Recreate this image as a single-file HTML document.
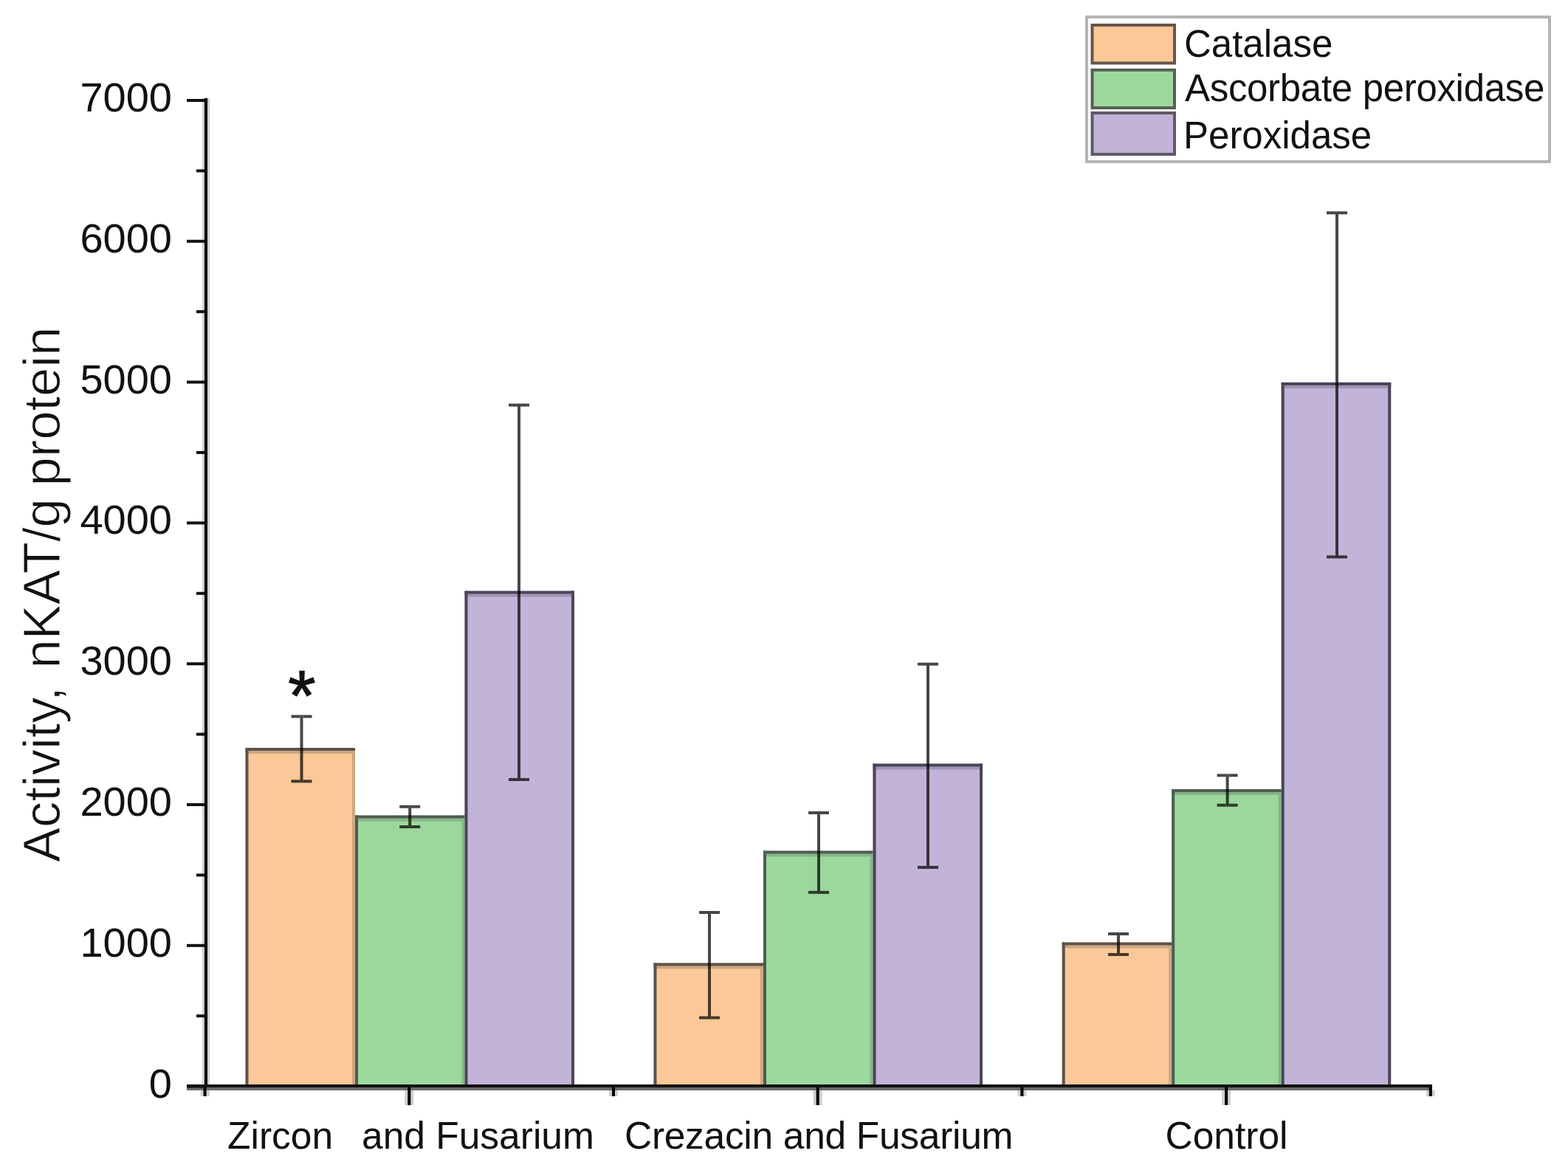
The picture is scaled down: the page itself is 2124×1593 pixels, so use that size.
<!DOCTYPE html>
<html><head><meta charset="utf-8"><title>Enzyme activity</title>
<style>
html,body{margin:0;padding:0;background:#fff;}
body{width:2124px;height:1593px;overflow:hidden;}
svg{display:block;filter:blur(0.5px);}
text{font-family:"Liberation Sans",Arial,sans-serif;fill:#111;}
</style></head>
<body>
<svg width="2124" height="1593" viewBox="0 0 2124 1593">
<rect width="2124" height="1593" fill="#fff"/>
<rect x="332.5" y="1013.0" width="148.5" height="460.5" fill="#FBC897"/>
<rect x="332.5" y="1017.0" width="148.5" height="4.0" fill="#cea782"/>
<rect x="477.0" y="1013.0" width="4.0" height="460.5" fill="#cea782"/>
<rect x="332.5" y="1013.0" width="148.5" height="4.0" fill="#5c534c"/>
<rect x="332.5" y="1013.0" width="4.0" height="460.5" fill="#5c534c"/>
<rect x="481.0" y="1104.5" width="148.5" height="369.0" fill="#9CD89C"/>
<rect x="481.0" y="1108.5" width="148.5" height="4.0" fill="#86b587"/>
<rect x="625.5" y="1104.5" width="4.0" height="369.0" fill="#86b587"/>
<rect x="481.0" y="1104.5" width="148.5" height="4.0" fill="#4f5c51"/>
<rect x="481.0" y="1104.5" width="4.0" height="369.0" fill="#4f5c51"/>
<rect x="629.5" y="800.5" width="148.5" height="673.0" fill="#C2B3D8"/>
<rect x="629.5" y="804.5" width="148.5" height="4.0" fill="#a094b4"/>
<rect x="774.0" y="800.5" width="4.0" height="673.0" fill="#4a4557"/>
<rect x="629.5" y="800.5" width="148.5" height="4.0" fill="#4a4557"/>
<rect x="629.5" y="800.5" width="4.0" height="673.0" fill="#4a4557"/>
<rect x="885.5" y="1304.5" width="148.5" height="169.0" fill="#FBC897"/>
<rect x="885.5" y="1308.5" width="148.5" height="4.0" fill="#cea782"/>
<rect x="1030.0" y="1304.5" width="4.0" height="169.0" fill="#cea782"/>
<rect x="885.5" y="1304.5" width="148.5" height="4.0" fill="#5c534c"/>
<rect x="885.5" y="1304.5" width="4.0" height="169.0" fill="#5c534c"/>
<rect x="1034.0" y="1152.5" width="148.5" height="321.0" fill="#9CD89C"/>
<rect x="1034.0" y="1156.5" width="148.5" height="4.0" fill="#86b587"/>
<rect x="1178.5" y="1152.5" width="4.0" height="321.0" fill="#86b587"/>
<rect x="1034.0" y="1152.5" width="148.5" height="4.0" fill="#4f5c51"/>
<rect x="1034.0" y="1152.5" width="4.0" height="321.0" fill="#4f5c51"/>
<rect x="1182.5" y="1034.5" width="148.5" height="439.0" fill="#C2B3D8"/>
<rect x="1182.5" y="1038.5" width="148.5" height="4.0" fill="#a094b4"/>
<rect x="1327.0" y="1034.5" width="4.0" height="439.0" fill="#4a4557"/>
<rect x="1182.5" y="1034.5" width="148.5" height="4.0" fill="#4a4557"/>
<rect x="1182.5" y="1034.5" width="4.0" height="439.0" fill="#4a4557"/>
<rect x="1438.7" y="1276.5" width="148.5" height="197.0" fill="#FBC897"/>
<rect x="1438.7" y="1280.5" width="148.5" height="4.0" fill="#cea782"/>
<rect x="1583.2" y="1276.5" width="4.0" height="197.0" fill="#cea782"/>
<rect x="1438.7" y="1276.5" width="148.5" height="4.0" fill="#5c534c"/>
<rect x="1438.7" y="1276.5" width="4.0" height="197.0" fill="#5c534c"/>
<rect x="1587.2" y="1069.0" width="148.5" height="404.5" fill="#9CD89C"/>
<rect x="1587.2" y="1073.0" width="148.5" height="4.0" fill="#86b587"/>
<rect x="1731.7" y="1069.0" width="4.0" height="404.5" fill="#86b587"/>
<rect x="1587.2" y="1069.0" width="148.5" height="4.0" fill="#4f5c51"/>
<rect x="1587.2" y="1069.0" width="4.0" height="404.5" fill="#4f5c51"/>
<rect x="1735.7" y="518.0" width="148.5" height="955.5" fill="#C2B3D8"/>
<rect x="1735.7" y="522.0" width="148.5" height="4.0" fill="#a094b4"/>
<rect x="1880.2" y="518.0" width="4.0" height="955.5" fill="#4a4557"/>
<rect x="1735.7" y="518.0" width="148.5" height="4.0" fill="#4a4557"/>
<rect x="1735.7" y="518.0" width="4.0" height="955.5" fill="#4a4557"/>
<g fill="#000" fill-opacity="0.72"><rect x="406.5" y="968.5" width="4" height="91.8"/><rect x="394.5" y="968.5" width="12" height="4"/><rect x="410.5" y="968.5" width="12" height="4"/><rect x="394.5" y="1056.3" width="12" height="4"/><rect x="410.5" y="1056.3" width="12" height="4"/></g>
<g fill="#000" fill-opacity="0.72"><rect x="553.2" y="1090.7" width="4" height="31.3"/><rect x="541.2" y="1090.7" width="12" height="4"/><rect x="557.2" y="1090.7" width="12" height="4"/><rect x="541.2" y="1118.0" width="12" height="4"/><rect x="557.2" y="1118.0" width="12" height="4"/></g>
<g fill="#000" fill-opacity="0.72"><rect x="701.0" y="546.7" width="4" height="511.3"/><rect x="689.0" y="546.7" width="12" height="4"/><rect x="705.0" y="546.7" width="12" height="4"/><rect x="689.0" y="1054.0" width="12" height="4"/><rect x="705.0" y="1054.0" width="12" height="4"/></g>
<g fill="#000" fill-opacity="0.72"><rect x="959.0" y="1234.0" width="4" height="146.6"/><rect x="947.0" y="1234.0" width="12" height="4"/><rect x="963.0" y="1234.0" width="12" height="4"/><rect x="947.0" y="1376.6" width="12" height="4"/><rect x="963.0" y="1376.6" width="12" height="4"/></g>
<g fill="#000" fill-opacity="0.72"><rect x="1107.0" y="1099.0" width="4" height="111.8"/><rect x="1095.0" y="1099.0" width="12" height="4"/><rect x="1111.0" y="1099.0" width="12" height="4"/><rect x="1095.0" y="1206.8" width="12" height="4"/><rect x="1111.0" y="1206.8" width="12" height="4"/></g>
<g fill="#000" fill-opacity="0.72"><rect x="1255.0" y="897.6" width="4" height="279.3"/><rect x="1243.0" y="897.6" width="12" height="4"/><rect x="1259.0" y="897.6" width="12" height="4"/><rect x="1243.0" y="1172.9" width="12" height="4"/><rect x="1259.0" y="1172.9" width="12" height="4"/></g>
<g fill="#000" fill-opacity="0.72"><rect x="1513.0" y="1263.0" width="4" height="32.0"/><rect x="1501.0" y="1263.0" width="12" height="4"/><rect x="1517.0" y="1263.0" width="12" height="4"/><rect x="1501.0" y="1291.0" width="12" height="4"/><rect x="1517.0" y="1291.0" width="12" height="4"/></g>
<g fill="#000" fill-opacity="0.72"><rect x="1660.6" y="1048.3" width="4" height="44.4"/><rect x="1648.6" y="1048.3" width="12" height="4"/><rect x="1664.6" y="1048.3" width="12" height="4"/><rect x="1648.6" y="1088.7" width="12" height="4"/><rect x="1664.6" y="1088.7" width="12" height="4"/></g>
<g fill="#000" fill-opacity="0.72"><rect x="1809.0" y="286.3" width="4" height="470.1"/><rect x="1797.0" y="286.3" width="12" height="4"/><rect x="1813.0" y="286.3" width="12" height="4"/><rect x="1797.0" y="752.4" width="12" height="4"/><rect x="1813.0" y="752.4" width="12" height="4"/></g>
<rect x="274" y="133" width="10" height="1352" fill="#cfcfcf"/>
<rect x="277" y="133" width="4" height="1352" fill="#000"/>
<rect x="253" y="1469" width="1687" height="4" fill="#111"/>
<rect x="253" y="1473" width="1687" height="4" fill="#6a6a6a"/>
<rect x="253" y="134.0" width="26" height="4" fill="#111"/>
<rect x="266" y="229.4" width="13" height="4" fill="#111"/>
<rect x="253" y="324.8" width="26" height="4" fill="#111"/>
<rect x="266" y="420.2" width="13" height="4" fill="#111"/>
<rect x="253" y="515.6" width="26" height="4" fill="#111"/>
<rect x="266" y="611.0" width="13" height="4" fill="#111"/>
<rect x="253" y="706.4" width="26" height="4" fill="#111"/>
<rect x="266" y="801.8" width="13" height="4" fill="#111"/>
<rect x="253" y="897.2" width="26" height="4" fill="#111"/>
<rect x="266" y="992.6" width="13" height="4" fill="#111"/>
<rect x="253" y="1088.0" width="26" height="4" fill="#111"/>
<rect x="266" y="1183.4" width="13" height="4" fill="#111"/>
<rect x="253" y="1278.8" width="26" height="4" fill="#111"/>
<rect x="266" y="1374.2" width="13" height="4" fill="#111"/>
<rect x="253" y="1469.6" width="26" height="4" fill="#111"/>
<rect x="271.6" y="1477" width="12" height="8" fill="#d0d0d0"/>
<rect x="275.6" y="1473" width="4" height="12" fill="#000"/>
<rect x="548.3" y="1477" width="12" height="20" fill="#d0d0d0"/>
<rect x="552.3" y="1473" width="4" height="24" fill="#000"/>
<rect x="825.0" y="1477" width="12" height="8" fill="#d0d0d0"/>
<rect x="829.0" y="1473" width="4" height="12" fill="#000"/>
<rect x="1101.7" y="1477" width="12" height="20" fill="#d0d0d0"/>
<rect x="1105.7" y="1473" width="4" height="24" fill="#000"/>
<rect x="1378.4" y="1477" width="12" height="8" fill="#d0d0d0"/>
<rect x="1382.4" y="1473" width="4" height="12" fill="#000"/>
<rect x="1655.1" y="1477" width="12" height="20" fill="#d0d0d0"/>
<rect x="1659.1" y="1473" width="4" height="24" fill="#000"/>
<rect x="1931.8" y="1477" width="12" height="8" fill="#d0d0d0"/>
<rect x="1935.8" y="1473" width="4" height="12" fill="#000"/>
<g font-size="56">
<text x="233" y="151.0" text-anchor="end">7000</text>
<text x="233" y="341.8" text-anchor="end">6000</text>
<text x="233" y="532.6" text-anchor="end">5000</text>
<text x="233" y="723.4" text-anchor="end">4000</text>
<text x="233" y="914.2" text-anchor="end">3000</text>
<text x="233" y="1105.0" text-anchor="end">2000</text>
<text x="233" y="1295.8" text-anchor="end">1000</text>
<text x="233" y="1486.6" text-anchor="end">0</text>
</g>
<text x="0" y="0" font-size="70.6" stroke="#fff" stroke-width="1.0" transform="translate(81,1168) rotate(-90)">Activity,<tspan dx="5"> nKAT/g</tspan><tspan dx="-3"> protein</tspan></text>
<g font-size="51.5">
<text x="308" y="1556">Zircon</text>
<text x="490" y="1556">and Fusarium</text>
<text x="846" y="1556" textLength="526.4" lengthAdjust="spacing">Crezacin and Fusarium</text>
<text x="1578.5" y="1556">Control</text>
</g>
<text x="409" y="975" font-size="96" text-anchor="middle" stroke="#111" stroke-width="1.2">*</text>
<g>
<rect x="1472" y="23" width="627" height="196" fill="#fff" stroke="#b4b4b4" stroke-width="4"/>
<rect x="1479.5" y="34" width="111.5" height="51.5" fill="#FBC897" stroke="#64564c" stroke-width="4"/>
<rect x="1479.5" y="94.8" width="111.5" height="51.3" fill="#9CD89C" stroke="#566056" stroke-width="4"/>
<rect x="1479.5" y="153" width="111.5" height="56" fill="#C2B3D8" stroke="#5e5a66" stroke-width="4"/>
<g font-size="51">
<text x="1604" y="77">Catalase</text>
<text x="1605" y="137" textLength="487.3" lengthAdjust="spacing">Ascorbate peroxidase</text>
<text x="1603" y="200.5">Peroxidase</text>
</g>
</g>
</svg>
</body></html>
